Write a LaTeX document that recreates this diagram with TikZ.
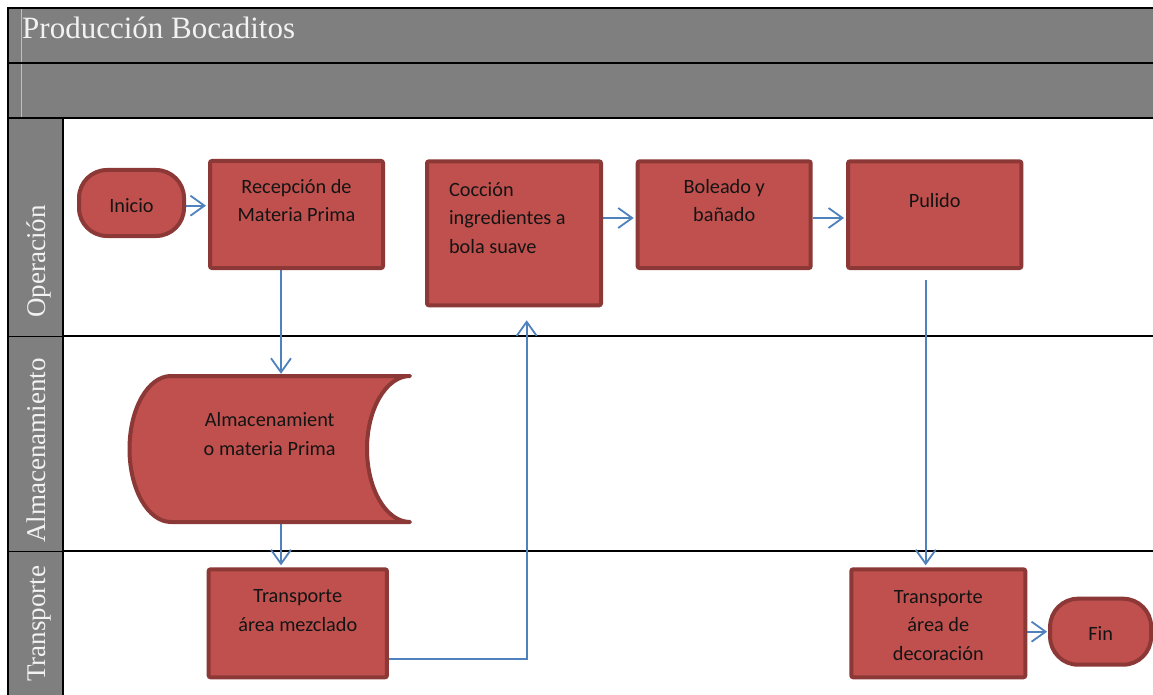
\documentclass[tikz,border=0pt]{standalone}
\usepackage{fontspec}
\setmainfont{Liberation Serif}
\newfontfamily\boxfont{Carlito}
\usetikzlibrary{arrows.meta,calc}
\pgfdeclarelayer{lanes}
\pgfdeclarelayer{links}
\pgfsetlayers{lanes,links,main}
\definecolor{hdrgray}{HTML}{7F7F7F}
\definecolor{hdrtext}{HTML}{F2F2F2}
\definecolor{hdrthin}{HTML}{BFBFBF}
\definecolor{boxfill}{HTML}{C0504D}
\definecolor{boxline}{HTML}{8C3836}
\definecolor{connblue}{HTML}{4F81BD}
\newcommand\boxtxt[4]{\parbox[c][#2][t]{#1}{\centering\rule{0pt}{#3}#4}}
\tikzset{
  boxfont/.style={font=\boxfont\fontsize{20.3}{28.5}\selectfont, text=black!92},
  procbox/.style={draw=boxline, fill=boxfill, line width=4pt, rounded corners=2pt,
    inner sep=0pt, boxfont},
  termbox/.style={procbox, rounded corners=28pt},
  storebox/.style={draw=boxline, fill=boxfill, line width=4pt, line join=round},
  conn/.style={draw=connblue, line width=1.8pt, -{Straight Barb[length=14pt,width=20pt]}, shorten >=2pt},
  lanelabel/.style={rotate=90, anchor=base west, inner sep=0pt, text=hdrtext,
    font=\fontsize{27}{32}\selectfont},
  thickrule/.style={draw=black, line width=2pt},
}
\begin{document}
\begin{tikzpicture}[x=1pt,y=-1pt]
\useasboundingbox (0,0) rectangle (1153,695);
\begin{pgfonlayer}{lanes}
\fill[white] (0,0) rectangle (1153,695);
\fill[hdrgray] (8,8) rectangle (1153,118);
\fill[hdrgray] (8,118) rectangle (63,695);
\draw[hdrthin, line width=1pt] (21,9) -- (21,117);
\draw[black, line width=1.2pt] (8,63) -- (1153,63);
\draw[thickrule] (7,8) -- (1153,8);
\draw[black, line width=2.5pt] (8,118) -- (1153,118);
\draw[thickrule] (8,7) -- (8,695);
\draw[thickrule] (63,118) -- (63,695);
\draw[black, line width=1pt] (8,336) -- (63,336);
\draw[black, line width=1pt] (8,551) -- (63,551);
\draw[thickrule] (63,336) -- (1153,336);
\draw[thickrule] (63,551) -- (1153,551);
\end{pgfonlayer}
% titles
\node[anchor=base west, inner sep=0pt, text=hdrtext, font=\fontsize{31}{37}\selectfont] (title) at (22,39) {Producción Bocaditos};
\node[lanelabel] (lop) at (45,318) {Operación};
\node[lanelabel] (lal) at (45,543) {Almacenamiento};
\node[lanelabel] (ltr) at (45,682) {Transporte};
% helper coordinates for connector lines
\coordinate (x1) at (281,0);
\coordinate (x2) at (526.7,0);
\coordinate (x3) at (925.7,0);
\coordinate (y1) at (0,205.7);
\coordinate (y2) at (0,659.3);
\coordinate (y3) at (0,218);
\coordinate (y4) at (0,631.7);
% storage shape
\draw[storebox] (171,376) -- (410,376)
  .. controls (386.3,376) and (367,408.7) .. (367,449)
  .. controls (367,489.3) and (386.3,522) .. (410,522)
  -- (171,522)
  .. controls (148.1,522) and (129.5,489.3) .. (129.5,449)
  .. controls (129.5,408.7) and (148.1,376) .. cycle;
\node[inner sep=0pt, boxfont] (alm) at (269.7,449)
  {\boxtxt{281pt}{146pt}{50.7pt}{Almacenamient\\o materia Prima}};
% process nodes
\node[termbox] (ini) at (131.5,203) {\boxtxt{105pt}{66pt}{42.7pt}{Inicio}};
\node[procbox] (rec) at (296.5,214.5) {\boxtxt{173pt}{107pt}{32pt}{Recepción de\\Materia Prima}};
\node[procbox] (coc) at (514,233.3) {\parbox[c][144pt][t]{174pt}{\raggedright\leftskip=22pt\rule{0pt}{34.7pt}Cocción\\ingredientes a\\bola suave}};
\node[procbox] (bol) at (724.2,214.7) {\boxtxt{173pt}{106.7pt}{31.7pt}{Boleado y\\bañado}};
\node[procbox] (pul) at (934.7,214.7) {\boxtxt{173.3pt}{106.7pt}{45.7pt}{Pulido}};
\node[procbox] (trm) at (297.8,623.3) {\boxtxt{178.3pt}{108pt}{33.4pt}{Transporte\\área mezclado}};
\node[procbox] (trd) at (938.3,623.3) {\boxtxt{174pt}{108pt}{34pt}{Transporte\\área de\\decoración}};
\node[termbox] (fin) at (1100.6,631.7) {\boxtxt{101pt}{66pt}{42pt}{Fin}};
% connectors (behind shapes)
\begin{pgfonlayer}{links}
\draw[conn] (ini.east |- y1) -- (rec.west |- y1);
\draw[conn] (rec.south -| x1) -- (alm.north -| x1);
\draw[conn] (alm.south -| x1) -- (trm.north -| x1);
\draw[conn, shorten >=13pt] (trm.east |- y2) -| (coc.south -| x2);
\draw[conn] (coc.east |- y3) -- (bol.west |- y3);
\draw[conn] (bol.east |- y3) -- (pul.west |- y3);
\draw[conn, shorten <=10pt] (pul.south -| x3) -- (trd.north -| x3);
\draw[conn, shorten >=1pt] (trd.east |- y4) -- (fin.west |- y4);
\end{pgfonlayer}
\end{tikzpicture}
\end{document}
